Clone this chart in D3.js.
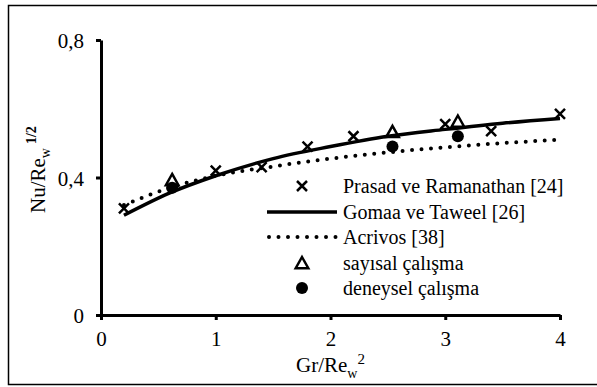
<!DOCTYPE html>
<html><head><meta charset="utf-8">
<script src="https://cdn.jsdelivr.net/npm/d3@7/dist/d3.min.js"></script>
<style>body{margin:0;background:#fff}</style>
</head><body>
<svg id="c" width="597" height="387" font-family="Liberation Serif"></svg>
<script>
const xTicks = [0, 1, 2, 3, 4];
const yTicks = [0, 0.4, 0.8];
const yTickLabels = ["0", "0,4", "0,8"];
const prasadX = [0.2, 1.0, 1.4, 1.8, 2.2, 3.0, 3.4, 4.0];
const prasadY = [0.31, 0.42, 0.43, 0.49, 0.52, 0.555, 0.535, 0.585];
const gomaaX = [0.2, 0.6, 1.0, 1.5, 2.0, 2.5, 3.0, 3.5, 4.0];
const gomaaY = [0.29, 0.355, 0.405, 0.455, 0.49, 0.52, 0.54, 0.558, 0.572];
const acrivosX = [0.2, 0.6, 1.0, 1.5, 2.0, 2.5, 3.0, 3.5, 4.0];
const acrivosY = [0.32, 0.37, 0.405, 0.432, 0.455, 0.473, 0.488, 0.5, 0.51];
const sayisalX = [0.62, 2.54, 3.11];
const sayisalY = [0.39, 0.53, 0.56];
const deneyselX = [0.62, 2.54, 3.11];
const deneyselY = [0.37, 0.49, 0.52];
const legendLabels = ["Prasad ve Ramanathan [24]", "Gomaa ve Taweel [26]", "Acrivos [38]", "sayısal çalışma", "deneysel çalışma"];

const FONT = "Liberation Serif";
const svg = d3.select("#c");
svg.append("rect").attr("x",8.5).attr("y",5.5).attr("width",592).attr("height",379)
  .attr("fill","none").attr("stroke","#000").attr("stroke-width",1.5);

const x = d3.scaleLinear().domain([0,4]).range([101,560]);
const y = d3.scaleLinear().domain([0,0.8]).range([315,40]);

const xa = svg.append("g").attr("transform","translate(0,315)")
  .call(d3.axisBottom(x).tickValues(xTicks).tickSize(5).tickSizeOuter(0).tickPadding(11).tickFormat(d3.format("d")));
const ya = svg.append("g").attr("transform","translate(101,0)")
  .call(d3.axisLeft(y).tickValues(yTicks).tickSize(5).tickSizeOuter(0).tickPadding(12).tickFormat((d,i)=>yTickLabels[i]));
[xa,ya].forEach(a=>{
  a.attr("font-family",FONT).attr("font-size",21);
  a.select(".domain").attr("stroke","#000").attr("stroke-width",3);
  a.selectAll(".tick line").attr("stroke","#000").attr("stroke-width",3);
  a.selectAll("text").attr("font-family",FONT).attr("font-size",21).attr("fill","#000");
});
ya.selectAll(".tick text").attr("dy","0.36em");

const g = svg.append("g");
const lineGen = d3.line().x(d=>x(d[0])).y(d=>y(d[1])).curve(d3.curveMonotoneX);
g.append("path").datum(acrivosX.map((v,i)=>[v,acrivosY[i]])).attr("d",lineGen)
  .attr("fill","none").attr("stroke","#000").attr("stroke-width",4).attr("stroke-linecap","round").attr("stroke-dasharray","0 9.5");
g.append("path").datum(gomaaX.map((v,i)=>[v,gomaaY[i]])).attr("d",lineGen)
  .attr("fill","none").attr("stroke","#000").attr("stroke-width",3.5);

function cross(sel, cx, cy){
  const s=5;
  sel.append("path").attr("d",`M${cx-s},${cy-s}L${cx+s},${cy+s}M${cx-s},${cy+s}L${cx+s},${cy-s}`)
    .attr("stroke","#000").attr("stroke-width",2.5).attr("fill","none");
}
function tri(sel, cx, cy){
  const s=7;
  sel.append("path").attr("d",`M${cx},${cy-s}L${cx+s*0.9},${cy+s*0.6}L${cx-s*0.9},${cy+s*0.6}Z`)
    .attr("stroke","#000").attr("stroke-width",2.5).attr("fill","none");
}
function dot(sel,cx,cy){ sel.append("circle").attr("cx",cx).attr("cy",cy).attr("r",6).attr("fill","#000"); }

prasadX.forEach((v,i)=>cross(g,x(v),y(prasadY[i])));
deneyselX.forEach((v,i)=>dot(g,x(v),y(deneyselY[i])));
sayisalX.forEach((v,i)=>tri(g,x(v),y(sayisalY[i])));

const lg = svg.append("g");
const rows = [186,212,237,263,288];
cross(lg,302,rows[0]);
lg.append("line").attr("x1",267).attr("x2",337).attr("y1",rows[1]).attr("y2",rows[1]).attr("stroke","#000").attr("stroke-width",3.5);
lg.append("line").attr("x1",269).attr("x2",337).attr("y1",rows[2]).attr("y2",rows[2]).attr("stroke","#000").attr("stroke-width",4).attr("stroke-linecap","round").attr("stroke-dasharray","0 9.5");
tri(lg,302,rows[3]+1);
dot(lg,302,rows[4]);
legendLabels.forEach((t,i)=>lg.append("text").attr("x",343).attr("y",rows[i]).attr("dy","0.35em").attr("font-family",FONT).attr("font-size",20).text(t));

const xt = svg.append("text").attr("x",296).attr("y",372).attr("font-family",FONT).attr("font-size",21);
xt.append("tspan").text("Gr/Re");
xt.append("tspan").attr("font-size",14).attr("dy",6).text("w");
xt.append("tspan").attr("font-size",15).attr("dy",-14).text("2");

const yt = svg.append("text").attr("transform","translate(45,213) rotate(-90)").attr("font-family",FONT).attr("font-size",21);
yt.append("tspan").text("Nu/Re");
yt.append("tspan").attr("font-size",14).attr("dy",5).text("w");
yt.append("tspan").attr("font-size",14).attr("font-weight","bold").attr("dy",-14).attr("dx",4).text("1/2");
</script>
</body></html>
